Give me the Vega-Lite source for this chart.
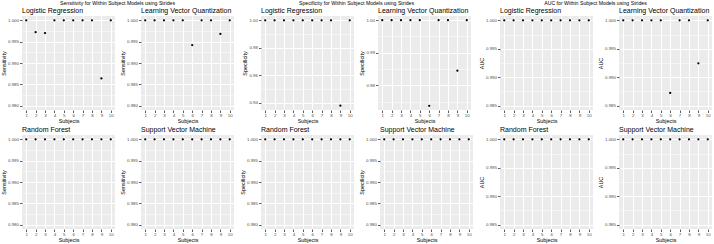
{
  "$schema": "https://vega.github.io/schema/vega-lite/v6.json",
  "padding": {"left": 1, "top": 0, "right": 0, "bottom": 0},
  "background": "white",
  "datasets": {
    "d": [
      {"metric":"Sensitivity","model":"Logistic Regression","subject":1,"value":1},
      {"metric":"Sensitivity","model":"Logistic Regression","subject":2,"value":0.9972},
      {"metric":"Sensitivity","model":"Logistic Regression","subject":3,"value":0.9970},
      {"metric":"Sensitivity","model":"Logistic Regression","subject":4,"value":1},
      {"metric":"Sensitivity","model":"Logistic Regression","subject":5,"value":1},
      {"metric":"Sensitivity","model":"Logistic Regression","subject":6,"value":1},
      {"metric":"Sensitivity","model":"Logistic Regression","subject":7,"value":1},
      {"metric":"Sensitivity","model":"Logistic Regression","subject":8,"value":1},
      {"metric":"Sensitivity","model":"Logistic Regression","subject":9,"value":0.9864},
      {"metric":"Sensitivity","model":"Logistic Regression","subject":10,"value":1},
      {"metric":"Sensitivity","model":"Learning Vector Quantization","subject":1,"value":1},
      {"metric":"Sensitivity","model":"Learning Vector Quantization","subject":2,"value":1},
      {"metric":"Sensitivity","model":"Learning Vector Quantization","subject":3,"value":1},
      {"metric":"Sensitivity","model":"Learning Vector Quantization","subject":4,"value":1},
      {"metric":"Sensitivity","model":"Learning Vector Quantization","subject":5,"value":1},
      {"metric":"Sensitivity","model":"Learning Vector Quantization","subject":6,"value":0.9942},
      {"metric":"Sensitivity","model":"Learning Vector Quantization","subject":7,"value":1},
      {"metric":"Sensitivity","model":"Learning Vector Quantization","subject":8,"value":1},
      {"metric":"Sensitivity","model":"Learning Vector Quantization","subject":9,"value":0.9968},
      {"metric":"Sensitivity","model":"Learning Vector Quantization","subject":10,"value":1},
      {"metric":"Sensitivity","model":"Random Forest","subject":1,"value":1},
      {"metric":"Sensitivity","model":"Random Forest","subject":2,"value":1},
      {"metric":"Sensitivity","model":"Random Forest","subject":3,"value":1},
      {"metric":"Sensitivity","model":"Random Forest","subject":4,"value":1},
      {"metric":"Sensitivity","model":"Random Forest","subject":5,"value":1},
      {"metric":"Sensitivity","model":"Random Forest","subject":6,"value":1},
      {"metric":"Sensitivity","model":"Random Forest","subject":7,"value":1},
      {"metric":"Sensitivity","model":"Random Forest","subject":8,"value":1},
      {"metric":"Sensitivity","model":"Random Forest","subject":9,"value":1},
      {"metric":"Sensitivity","model":"Random Forest","subject":10,"value":1},
      {"metric":"Sensitivity","model":"Support Vector Machine","subject":1,"value":1},
      {"metric":"Sensitivity","model":"Support Vector Machine","subject":2,"value":1},
      {"metric":"Sensitivity","model":"Support Vector Machine","subject":3,"value":1},
      {"metric":"Sensitivity","model":"Support Vector Machine","subject":4,"value":1},
      {"metric":"Sensitivity","model":"Support Vector Machine","subject":5,"value":1},
      {"metric":"Sensitivity","model":"Support Vector Machine","subject":6,"value":1},
      {"metric":"Sensitivity","model":"Support Vector Machine","subject":7,"value":1},
      {"metric":"Sensitivity","model":"Support Vector Machine","subject":8,"value":1},
      {"metric":"Sensitivity","model":"Support Vector Machine","subject":9,"value":1},
      {"metric":"Sensitivity","model":"Support Vector Machine","subject":10,"value":1},
      {"metric":"Specificity","model":"Logistic Regression","subject":1,"value":1},
      {"metric":"Specificity","model":"Logistic Regression","subject":2,"value":1},
      {"metric":"Specificity","model":"Logistic Regression","subject":3,"value":1},
      {"metric":"Specificity","model":"Logistic Regression","subject":4,"value":1},
      {"metric":"Specificity","model":"Logistic Regression","subject":5,"value":1},
      {"metric":"Specificity","model":"Logistic Regression","subject":6,"value":1},
      {"metric":"Specificity","model":"Logistic Regression","subject":7,"value":1},
      {"metric":"Specificity","model":"Logistic Regression","subject":8,"value":1},
      {"metric":"Specificity","model":"Logistic Regression","subject":9,"value":0.938},
      {"metric":"Specificity","model":"Logistic Regression","subject":10,"value":1},
      {"metric":"Specificity","model":"Learning Vector Quantization","subject":1,"value":1},
      {"metric":"Specificity","model":"Learning Vector Quantization","subject":2,"value":1},
      {"metric":"Specificity","model":"Learning Vector Quantization","subject":3,"value":1},
      {"metric":"Specificity","model":"Learning Vector Quantization","subject":4,"value":1},
      {"metric":"Specificity","model":"Learning Vector Quantization","subject":5,"value":1},
      {"metric":"Specificity","model":"Learning Vector Quantization","subject":6,"value":0.9737},
      {"metric":"Specificity","model":"Learning Vector Quantization","subject":7,"value":1},
      {"metric":"Specificity","model":"Learning Vector Quantization","subject":8,"value":1},
      {"metric":"Specificity","model":"Learning Vector Quantization","subject":9,"value":0.9845},
      {"metric":"Specificity","model":"Learning Vector Quantization","subject":10,"value":1},
      {"metric":"Specificity","model":"Random Forest","subject":1,"value":1},
      {"metric":"Specificity","model":"Random Forest","subject":2,"value":1},
      {"metric":"Specificity","model":"Random Forest","subject":3,"value":1},
      {"metric":"Specificity","model":"Random Forest","subject":4,"value":1},
      {"metric":"Specificity","model":"Random Forest","subject":5,"value":1},
      {"metric":"Specificity","model":"Random Forest","subject":6,"value":1},
      {"metric":"Specificity","model":"Random Forest","subject":7,"value":1},
      {"metric":"Specificity","model":"Random Forest","subject":8,"value":1},
      {"metric":"Specificity","model":"Random Forest","subject":9,"value":1},
      {"metric":"Specificity","model":"Random Forest","subject":10,"value":1},
      {"metric":"Specificity","model":"Support Vector Machine","subject":1,"value":1},
      {"metric":"Specificity","model":"Support Vector Machine","subject":2,"value":1},
      {"metric":"Specificity","model":"Support Vector Machine","subject":3,"value":1},
      {"metric":"Specificity","model":"Support Vector Machine","subject":4,"value":1},
      {"metric":"Specificity","model":"Support Vector Machine","subject":5,"value":1},
      {"metric":"Specificity","model":"Support Vector Machine","subject":6,"value":1},
      {"metric":"Specificity","model":"Support Vector Machine","subject":7,"value":1},
      {"metric":"Specificity","model":"Support Vector Machine","subject":8,"value":1},
      {"metric":"Specificity","model":"Support Vector Machine","subject":9,"value":1},
      {"metric":"Specificity","model":"Support Vector Machine","subject":10,"value":1},
      {"metric":"AUC","model":"Logistic Regression","subject":1,"value":1},
      {"metric":"AUC","model":"Logistic Regression","subject":2,"value":1},
      {"metric":"AUC","model":"Logistic Regression","subject":3,"value":1},
      {"metric":"AUC","model":"Logistic Regression","subject":4,"value":1},
      {"metric":"AUC","model":"Logistic Regression","subject":5,"value":1},
      {"metric":"AUC","model":"Logistic Regression","subject":6,"value":1},
      {"metric":"AUC","model":"Logistic Regression","subject":7,"value":1},
      {"metric":"AUC","model":"Logistic Regression","subject":8,"value":1},
      {"metric":"AUC","model":"Logistic Regression","subject":9,"value":1},
      {"metric":"AUC","model":"Logistic Regression","subject":10,"value":1},
      {"metric":"AUC","model":"Learning Vector Quantization","subject":1,"value":1},
      {"metric":"AUC","model":"Learning Vector Quantization","subject":2,"value":1},
      {"metric":"AUC","model":"Learning Vector Quantization","subject":3,"value":1},
      {"metric":"AUC","model":"Learning Vector Quantization","subject":4,"value":1},
      {"metric":"AUC","model":"Learning Vector Quantization","subject":5,"value":1},
      {"metric":"AUC","model":"Learning Vector Quantization","subject":6,"value":0.98725},
      {"metric":"AUC","model":"Learning Vector Quantization","subject":7,"value":1},
      {"metric":"AUC","model":"Learning Vector Quantization","subject":8,"value":1},
      {"metric":"AUC","model":"Learning Vector Quantization","subject":9,"value":0.99245},
      {"metric":"AUC","model":"Learning Vector Quantization","subject":10,"value":1},
      {"metric":"AUC","model":"Random Forest","subject":1,"value":1},
      {"metric":"AUC","model":"Random Forest","subject":2,"value":1},
      {"metric":"AUC","model":"Random Forest","subject":3,"value":1},
      {"metric":"AUC","model":"Random Forest","subject":4,"value":1},
      {"metric":"AUC","model":"Random Forest","subject":5,"value":1},
      {"metric":"AUC","model":"Random Forest","subject":6,"value":1},
      {"metric":"AUC","model":"Random Forest","subject":7,"value":1},
      {"metric":"AUC","model":"Random Forest","subject":8,"value":1},
      {"metric":"AUC","model":"Random Forest","subject":9,"value":1},
      {"metric":"AUC","model":"Random Forest","subject":10,"value":1},
      {"metric":"AUC","model":"Support Vector Machine","subject":1,"value":1},
      {"metric":"AUC","model":"Support Vector Machine","subject":2,"value":1},
      {"metric":"AUC","model":"Support Vector Machine","subject":3,"value":1},
      {"metric":"AUC","model":"Support Vector Machine","subject":4,"value":1},
      {"metric":"AUC","model":"Support Vector Machine","subject":5,"value":1},
      {"metric":"AUC","model":"Support Vector Machine","subject":6,"value":1},
      {"metric":"AUC","model":"Support Vector Machine","subject":7,"value":1},
      {"metric":"AUC","model":"Support Vector Machine","subject":8,"value":1},
      {"metric":"AUC","model":"Support Vector Machine","subject":9,"value":1},
      {"metric":"AUC","model":"Support Vector Machine","subject":10,"value":1}
    ]
  },
  "data": {"name": "d"},
  "config": {
    "font": "Liberation Sans",
    "view": {"fill": "#EBEBEB", "stroke": null},
    "concat": {"spacing": 6},
    "axis": {
      "domain": false,
      "grid": true,
      "gridColor": "#FFFFFF",
      "gridWidth": 1,
      "tickColor": "#333333",
      "tickSize": 2.5,
      "tickWidth": 0.8,
      "labelFontSize": 4.4,
      "labelColor": "#4D4D4D",
      "labelPadding": 1,
      "titleFontSize": 5.4,
      "titleFontWeight": "normal",
      "titleColor": "#000000",
      "titlePadding": 1.5
    },
    "title": {"fontSize": 7, "fontWeight": "normal", "anchor": "start", "frame": "group", "offset": 2, "color": "#000000"},
    "point": {"filled": true, "color": "#000000", "size": 5, "opacity": 1, "shape": "circle"}
  },
  "hconcat": [
    {
      "title": {"text": "Sensitivity for Within Subject Models using Strides", "fontSize": 5.2, "anchor": "middle", "frame": "bounds", "offset": 1},
      "spacing": 2,
      "vconcat": [
        {"spacing": 5, "hconcat": [
          {"title": "Logistic Regression", "width": 93, "height": 94,
           "transform": [{"filter": "datum.metric === 'Sensitivity' && datum.model === 'Logistic Regression'"}],
           "mark": "point",
           "encoding": {
             "x": {"field": "subject", "type": "quantitative", "scale": {"domain": [0.55, 10.45], "nice": false}, "axis": {"values": [1,2,3,4,5,6,7,8,9,10], "format": "d", "title": "Subjects"}},
             "y": {"field": "value", "type": "quantitative", "scale": {"domain": [0.979, 1.001], "nice": false, "zero": false}, "axis": {"values": [0.98, 0.9825, 0.985, 0.9875, 0.99, 0.9925, 0.995, 0.9975, 1], "labelExpr": "indexof([0.9825,0.9875,0.9925,0.9975], datum.value) >= 0 ? '' : format(datum.value, '.3f')", "gridWidth": {"condition": {"test": "indexof([0.9825,0.9875,0.9925,0.9975], datum.value) >= 0", "value": 0.5}, "value": 1}, "tickOpacity": {"condition": {"test": "indexof([0.9825,0.9875,0.9925,0.9975], datum.value) >= 0", "value": 0}, "value": 1}, "title": "Sensitivity"}}
           }},
          {"title": "Learning Vector Quantization", "width": 93, "height": 94,
           "transform": [{"filter": "datum.metric === 'Sensitivity' && datum.model === 'Learning Vector Quantization'"}],
           "mark": "point",
           "encoding": {
             "x": {"field": "subject", "type": "quantitative", "scale": {"domain": [0.55, 10.45], "nice": false}, "axis": {"values": [1,2,3,4,5,6,7,8,9,10], "format": "d", "title": "Subjects"}},
             "y": {"field": "value", "type": "quantitative", "scale": {"domain": [0.979, 1.001], "nice": false, "zero": false}, "axis": {"values": [0.98, 0.9825, 0.985, 0.9875, 0.99, 0.9925, 0.995, 0.9975, 1], "labelExpr": "indexof([0.9825,0.9875,0.9925,0.9975], datum.value) >= 0 ? '' : format(datum.value, '.3f')", "gridWidth": {"condition": {"test": "indexof([0.9825,0.9875,0.9925,0.9975], datum.value) >= 0", "value": 0.5}, "value": 1}, "tickOpacity": {"condition": {"test": "indexof([0.9825,0.9875,0.9925,0.9975], datum.value) >= 0", "value": 0}, "value": 1}, "title": "Sensitivity"}}
           }}
        ]},
        {"spacing": 5, "hconcat": [
          {"title": "Random Forest", "width": 93, "height": 94,
           "transform": [{"filter": "datum.metric === 'Sensitivity' && datum.model === 'Random Forest'"}],
           "mark": "point",
           "encoding": {
             "x": {"field": "subject", "type": "quantitative", "scale": {"domain": [0.55, 10.45], "nice": false}, "axis": {"values": [1,2,3,4,5,6,7,8,9,10], "format": "d", "title": "Subjects"}},
             "y": {"field": "value", "type": "quantitative", "scale": {"domain": [0.979, 1.001], "nice": false, "zero": false}, "axis": {"values": [0.98, 0.9825, 0.985, 0.9875, 0.99, 0.9925, 0.995, 0.9975, 1], "labelExpr": "indexof([0.9825,0.9875,0.9925,0.9975], datum.value) >= 0 ? '' : format(datum.value, '.3f')", "gridWidth": {"condition": {"test": "indexof([0.9825,0.9875,0.9925,0.9975], datum.value) >= 0", "value": 0.5}, "value": 1}, "tickOpacity": {"condition": {"test": "indexof([0.9825,0.9875,0.9925,0.9975], datum.value) >= 0", "value": 0}, "value": 1}, "title": "Sensitivity"}}
           }},
          {"title": "Support Vector Machine", "width": 93, "height": 94,
           "transform": [{"filter": "datum.metric === 'Sensitivity' && datum.model === 'Support Vector Machine'"}],
           "mark": "point",
           "encoding": {
             "x": {"field": "subject", "type": "quantitative", "scale": {"domain": [0.55, 10.45], "nice": false}, "axis": {"values": [1,2,3,4,5,6,7,8,9,10], "format": "d", "title": "Subjects"}},
             "y": {"field": "value", "type": "quantitative", "scale": {"domain": [0.979, 1.001], "nice": false, "zero": false}, "axis": {"values": [0.98, 0.9825, 0.985, 0.9875, 0.99, 0.9925, 0.995, 0.9975, 1], "labelExpr": "indexof([0.9825,0.9875,0.9925,0.9975], datum.value) >= 0 ? '' : format(datum.value, '.3f')", "gridWidth": {"condition": {"test": "indexof([0.9825,0.9875,0.9925,0.9975], datum.value) >= 0", "value": 0.5}, "value": 1}, "tickOpacity": {"condition": {"test": "indexof([0.9825,0.9875,0.9925,0.9975], datum.value) >= 0", "value": 0}, "value": 1}, "title": "Sensitivity"}}
           }}
        ]}
      ]
    },
    {
      "title": {"text": "Specificity for Within Subject Models using Strides", "fontSize": 5.2, "anchor": "middle", "frame": "bounds", "offset": 1},
      "spacing": 2,
      "vconcat": [
        {"spacing": 5, "hconcat": [
          {"title": "Logistic Regression", "width": 93, "height": 94,
           "transform": [{"filter": "datum.metric === 'Specificity' && datum.model === 'Logistic Regression'"}],
           "mark": "point",
           "encoding": {
             "x": {"field": "subject", "type": "quantitative", "scale": {"domain": [0.55, 10.45], "nice": false}, "axis": {"values": [1,2,3,4,5,6,7,8,9,10], "format": "d", "title": "Subjects"}},
             "y": {"field": "value", "type": "quantitative", "scale": {"domain": [0.9349, 1.0031], "nice": false, "zero": false}, "axis": {"values": [0.94, 0.95, 0.96, 0.97, 0.98, 0.99, 1], "labelExpr": "indexof([0.95,0.97,0.99], datum.value) >= 0 ? '' : format(datum.value, '.2f')", "gridWidth": {"condition": {"test": "indexof([0.95,0.97,0.99], datum.value) >= 0", "value": 0.5}, "value": 1}, "tickOpacity": {"condition": {"test": "indexof([0.95,0.97,0.99], datum.value) >= 0", "value": 0}, "value": 1}, "title": "Specificity"}}
           }},
          {"title": "Learning Vector Quantization", "width": 93, "height": 94,
           "transform": [{"filter": "datum.metric === 'Specificity' && datum.model === 'Learning Vector Quantization'"}],
           "mark": "point",
           "encoding": {
             "x": {"field": "subject", "type": "quantitative", "scale": {"domain": [0.55, 10.45], "nice": false}, "axis": {"values": [1,2,3,4,5,6,7,8,9,10], "format": "d", "title": "Subjects"}},
             "y": {"field": "value", "type": "quantitative", "scale": {"domain": [0.9724, 1.0013], "nice": false, "zero": false}, "axis": {"values": [0.975, 0.98, 0.985, 0.99, 0.995, 1], "labelExpr": "indexof([0.975,0.985,0.995], datum.value) >= 0 ? '' : format(datum.value, '.2f')", "gridWidth": {"condition": {"test": "indexof([0.975,0.985,0.995], datum.value) >= 0", "value": 0.5}, "value": 1}, "tickOpacity": {"condition": {"test": "indexof([0.975,0.985,0.995], datum.value) >= 0", "value": 0}, "value": 1}, "title": "Specificity"}}
           }}
        ]},
        {"spacing": 5, "hconcat": [
          {"title": "Random Forest", "width": 93, "height": 94,
           "transform": [{"filter": "datum.metric === 'Specificity' && datum.model === 'Random Forest'"}],
           "mark": "point",
           "encoding": {
             "x": {"field": "subject", "type": "quantitative", "scale": {"domain": [0.55, 10.45], "nice": false}, "axis": {"values": [1,2,3,4,5,6,7,8,9,10], "format": "d", "title": "Subjects"}},
             "y": {"field": "value", "type": "quantitative", "scale": {"domain": [0.979, 1.001], "nice": false, "zero": false}, "axis": {"values": [0.98, 0.9825, 0.985, 0.9875, 0.99, 0.9925, 0.995, 0.9975, 1], "labelExpr": "indexof([0.9825,0.9875,0.9925,0.9975], datum.value) >= 0 ? '' : format(datum.value, '.3f')", "gridWidth": {"condition": {"test": "indexof([0.9825,0.9875,0.9925,0.9975], datum.value) >= 0", "value": 0.5}, "value": 1}, "tickOpacity": {"condition": {"test": "indexof([0.9825,0.9875,0.9925,0.9975], datum.value) >= 0", "value": 0}, "value": 1}, "title": "Specificity"}}
           }},
          {"title": "Support Vector Machine", "width": 93, "height": 94,
           "transform": [{"filter": "datum.metric === 'Specificity' && datum.model === 'Support Vector Machine'"}],
           "mark": "point",
           "encoding": {
             "x": {"field": "subject", "type": "quantitative", "scale": {"domain": [0.55, 10.45], "nice": false}, "axis": {"values": [1,2,3,4,5,6,7,8,9,10], "format": "d", "title": "Subjects"}},
             "y": {"field": "value", "type": "quantitative", "scale": {"domain": [0.979, 1.001], "nice": false, "zero": false}, "axis": {"values": [0.98, 0.9825, 0.985, 0.9875, 0.99, 0.9925, 0.995, 0.9975, 1], "labelExpr": "indexof([0.9825,0.9875,0.9925,0.9975], datum.value) >= 0 ? '' : format(datum.value, '.3f')", "gridWidth": {"condition": {"test": "indexof([0.9825,0.9875,0.9925,0.9975], datum.value) >= 0", "value": 0.5}, "value": 1}, "tickOpacity": {"condition": {"test": "indexof([0.9825,0.9875,0.9925,0.9975], datum.value) >= 0", "value": 0}, "value": 1}, "title": "Specificity"}}
           }}
        ]}
      ]
    },
    {
      "title": {"text": "AUC for Within Subject Models using Strides", "fontSize": 5.2, "anchor": "middle", "frame": "bounds", "offset": 1},
      "spacing": 2,
      "vconcat": [
        {"spacing": 5, "hconcat": [
          {"title": "Logistic Regression", "width": 93, "height": 94,
           "transform": [{"filter": "datum.metric === 'AUC' && datum.model === 'Logistic Regression'"}],
           "mark": "point",
           "encoding": {
             "x": {"field": "subject", "type": "quantitative", "scale": {"domain": [0.55, 10.45], "nice": false}, "axis": {"values": [1,2,3,4,5,6,7,8,9,10], "format": "d", "title": "Subjects"}},
             "y": {"field": "value", "type": "quantitative", "scale": {"domain": [0.98425, 1.00075], "nice": false, "zero": false}, "axis": {"values": [0.985, 0.9875, 0.99, 0.9925, 0.995, 0.9975, 1], "labelExpr": "indexof([0.9875,0.9925,0.9975], datum.value) >= 0 ? '' : format(datum.value, '.3f')", "gridWidth": {"condition": {"test": "indexof([0.9875,0.9925,0.9975], datum.value) >= 0", "value": 0.5}, "value": 1}, "tickOpacity": {"condition": {"test": "indexof([0.9875,0.9925,0.9975], datum.value) >= 0", "value": 0}, "value": 1}, "title": "AUC"}}
           }},
          {"title": "Learning Vector Quantization", "width": 93, "height": 94,
           "transform": [{"filter": "datum.metric === 'AUC' && datum.model === 'Learning Vector Quantization'"}],
           "mark": "point",
           "encoding": {
             "x": {"field": "subject", "type": "quantitative", "scale": {"domain": [0.55, 10.45], "nice": false}, "axis": {"values": [1,2,3,4,5,6,7,8,9,10], "format": "d", "title": "Subjects"}},
             "y": {"field": "value", "type": "quantitative", "scale": {"domain": [0.98425, 1.00075], "nice": false, "zero": false}, "axis": {"values": [0.985, 0.9875, 0.99, 0.9925, 0.995, 0.9975, 1], "labelExpr": "indexof([0.9875,0.9925,0.9975], datum.value) >= 0 ? '' : format(datum.value, '.3f')", "gridWidth": {"condition": {"test": "indexof([0.9875,0.9925,0.9975], datum.value) >= 0", "value": 0.5}, "value": 1}, "tickOpacity": {"condition": {"test": "indexof([0.9875,0.9925,0.9975], datum.value) >= 0", "value": 0}, "value": 1}, "title": "AUC"}}
           }}
        ]},
        {"spacing": 5, "hconcat": [
          {"title": "Random Forest", "width": 93, "height": 94,
           "transform": [{"filter": "datum.metric === 'AUC' && datum.model === 'Random Forest'"}],
           "mark": "point",
           "encoding": {
             "x": {"field": "subject", "type": "quantitative", "scale": {"domain": [0.55, 10.45], "nice": false}, "axis": {"values": [1,2,3,4,5,6,7,8,9,10], "format": "d", "title": "Subjects"}},
             "y": {"field": "value", "type": "quantitative", "scale": {"domain": [0.98425, 1.00075], "nice": false, "zero": false}, "axis": {"values": [0.985, 0.9875, 0.99, 0.9925, 0.995, 0.9975, 1], "labelExpr": "indexof([0.9875,0.9925,0.9975], datum.value) >= 0 ? '' : format(datum.value, '.3f')", "gridWidth": {"condition": {"test": "indexof([0.9875,0.9925,0.9975], datum.value) >= 0", "value": 0.5}, "value": 1}, "tickOpacity": {"condition": {"test": "indexof([0.9875,0.9925,0.9975], datum.value) >= 0", "value": 0}, "value": 1}, "title": "AUC"}}
           }},
          {"title": "Support Vector Machine", "width": 93, "height": 94,
           "transform": [{"filter": "datum.metric === 'AUC' && datum.model === 'Support Vector Machine'"}],
           "mark": "point",
           "encoding": {
             "x": {"field": "subject", "type": "quantitative", "scale": {"domain": [0.55, 10.45], "nice": false}, "axis": {"values": [1,2,3,4,5,6,7,8,9,10], "format": "d", "title": "Subjects"}},
             "y": {"field": "value", "type": "quantitative", "scale": {"domain": [0.98425, 1.00075], "nice": false, "zero": false}, "axis": {"values": [0.985, 0.9875, 0.99, 0.9925, 0.995, 0.9975, 1], "labelExpr": "indexof([0.9875,0.9925,0.9975], datum.value) >= 0 ? '' : format(datum.value, '.3f')", "gridWidth": {"condition": {"test": "indexof([0.9875,0.9925,0.9975], datum.value) >= 0", "value": 0.5}, "value": 1}, "tickOpacity": {"condition": {"test": "indexof([0.9875,0.9925,0.9975], datum.value) >= 0", "value": 0}, "value": 1}, "title": "AUC"}}
           }}
        ]}
      ]
    }
  ]
}
